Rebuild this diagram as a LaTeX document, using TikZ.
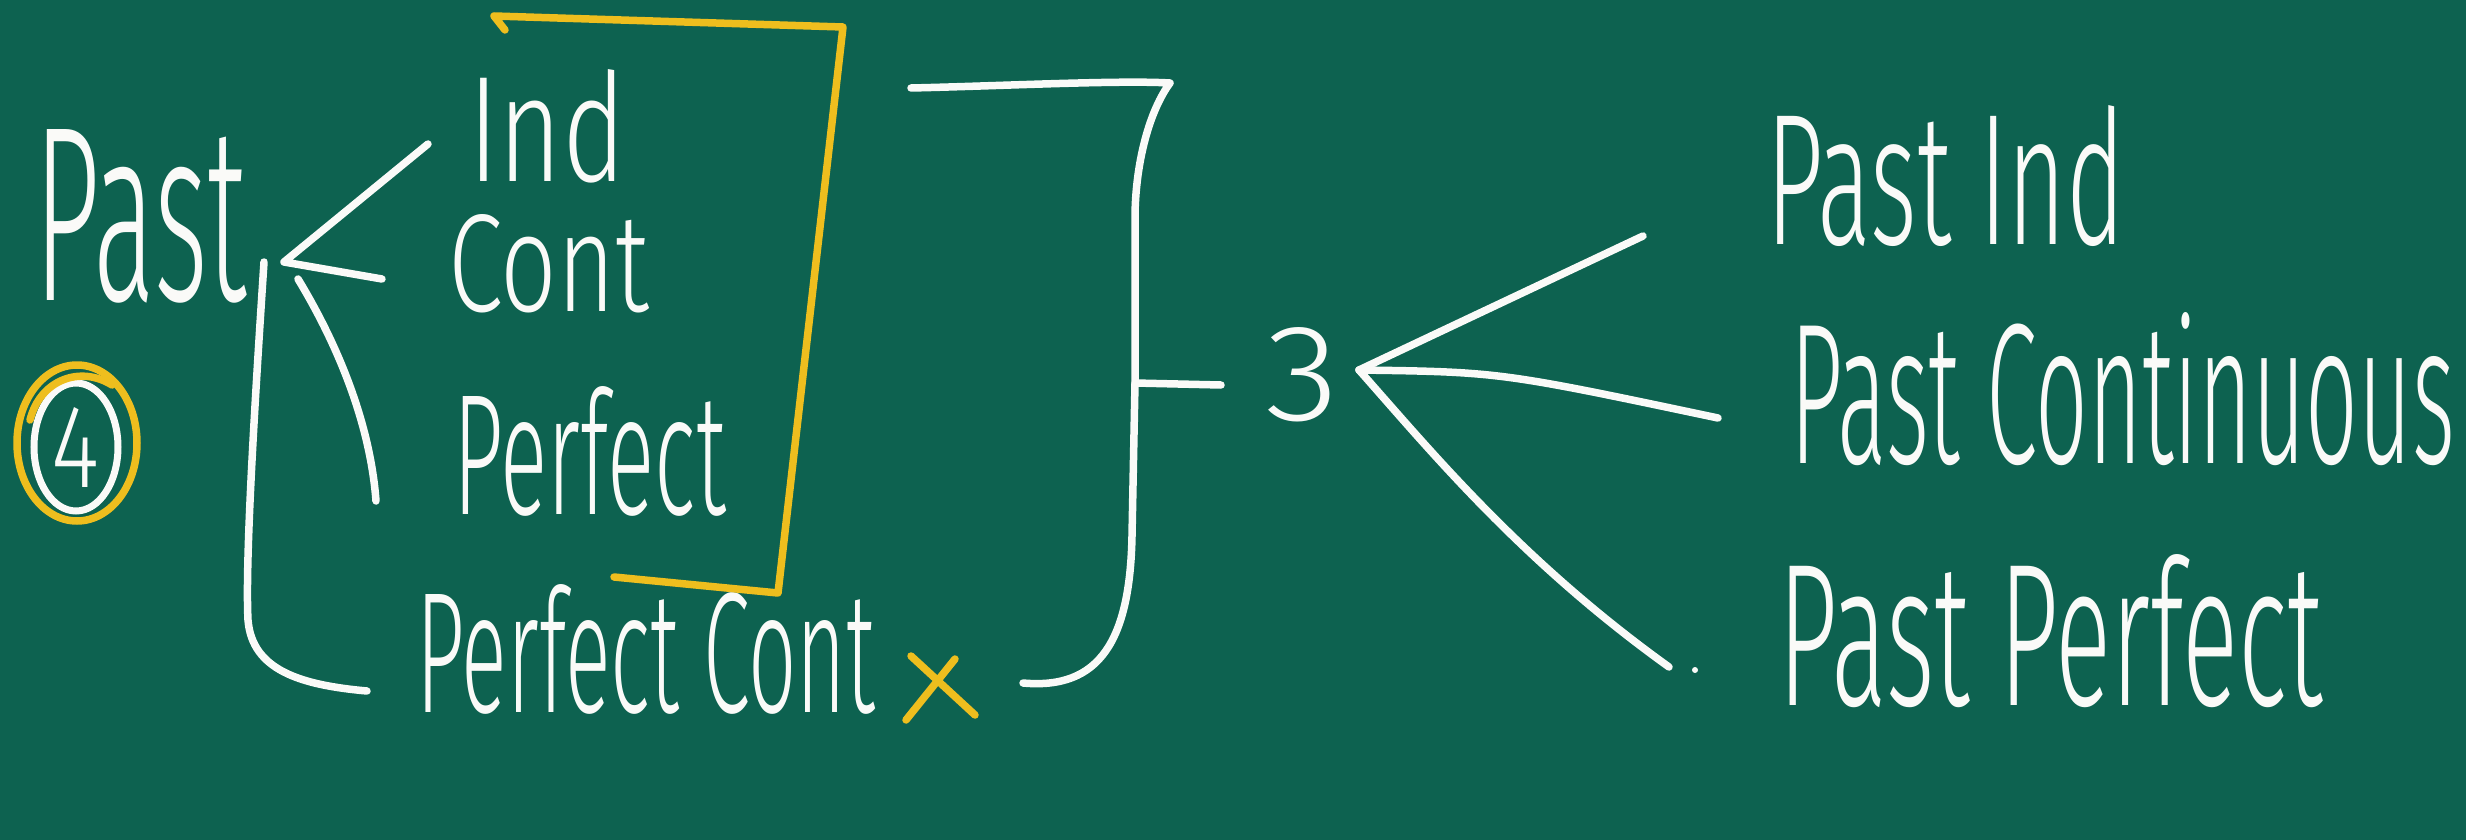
\documentclass[tikz,border=0pt]{standalone}
\usepackage{fontspec}
\setmainfont{Fira Sans Light}
\usepackage{graphicx}
\usetikzlibrary{shapes.geometric}
\definecolor{board}{RGB}{13,98,80}
\definecolor{chalk}{RGB}{250,250,248}
\definecolor{marker}{RGB}{238,190,30}
\newcommand\hwfit[3]{\resizebox{#1pt}{#2pt}{\fontsize{100}{100}\selectfont #3}}
\begin{document}
\begin{tikzpicture}[x=1pt,y=-1pt,
  chalkline/.style={draw=chalk,line width=7.5pt,line cap=round,line join=round},
  markline/.style={draw=marker,line width=7.5pt,line cap=round,line join=round},
  word/.style={inner sep=0pt,outer sep=0pt,anchor=base west,text=chalk}]
\fill[board] (0,0) rectangle (2466,840);
\useasboundingbox (0,0) rectangle (2466,840);

% words
\node[word] (past) at (34,300) {\hwfit{213}{171}{Past}};
\node[word] (ind) at (468,182) {\hwfit{158}{112}{Ind}};
\node[word] (cont) at (448,311) {\hwfit{201}{97}{Cont}};
\node[word] (perf) at (453,514) {\hwfit{273}{128}{Perfect}};
\node[word] (perfcont) at (416,712) {\hwfit{459}{128}{Perfect Cont}};
\node[word] (three) at (1265,420) {\hwfit{74}{93}{3}};
\node[word] (pind) at (1766,244) {\hwfit{359}{139}{Past Ind}};
\node[word] (pcont) at (1790,463) {\hwfit{665}{151}{Past Continuous}};
\node[word] (pperf) at (1778,705) {\hwfit{545}{151}{Past Perfect}};

% circled 4
\node[ellipse,draw=chalk,line width=7pt,inner sep=0pt,minimum width=84pt,minimum height=128pt,text=chalk] (four) at (76,447) {\hwfit{48}{80}{4}};
\draw[markline] (77,443) ellipse [x radius=60,y radius=78];
\draw[markline] (30,420) .. controls (40,380) and (80,365) .. (112,385);

% left chevron and bracket
\coordinate (cv) at (284,262);
\draw[chalkline] (428,144) -- (cv) -- (382,279);
\draw[chalkline] (298,279) .. controls (335,340) and (370,420) .. (376,501);
\draw[chalkline] (264,262) .. controls (255,400) and (245,560) .. (248,620)
  .. controls (252,670) and (300,685) .. (367,691);

% yellow bracket
\draw[markline] (505,30) -- (494,16) -- (843,27) -- (778,593) -- (614,577);
% yellow cross
\draw[markline] (911,656) -- (975,715);
\draw[markline] (955,659) -- (906,720);

% white right bracket and tick
\coordinate (tick) at (1135,383);
\coordinate (te) at (1221,385);
\draw[chalkline] (911,88) .. controls (1000,86) and (1120,80) .. (1170,83)
  .. controls (1150,110) and (1136,160) .. (1135,214) -- (tick) -- (1132,536)
  .. controls (1130,640) and (1100,690) .. (1023,683);
\draw[chalkline] (tick) -- (te);

% fan
\coordinate (fv) at (1359,370);
\draw[chalkline] (1643,236) -- (fv);
\draw[chalkline] (fv) .. controls (1500,372) .. (1718,418);
\draw[chalkline] (fv) .. controls (1430,450) and (1520,560) .. (1669,667);
\fill[chalk] (1695,670) circle (3);
\end{tikzpicture}
\end{document}
